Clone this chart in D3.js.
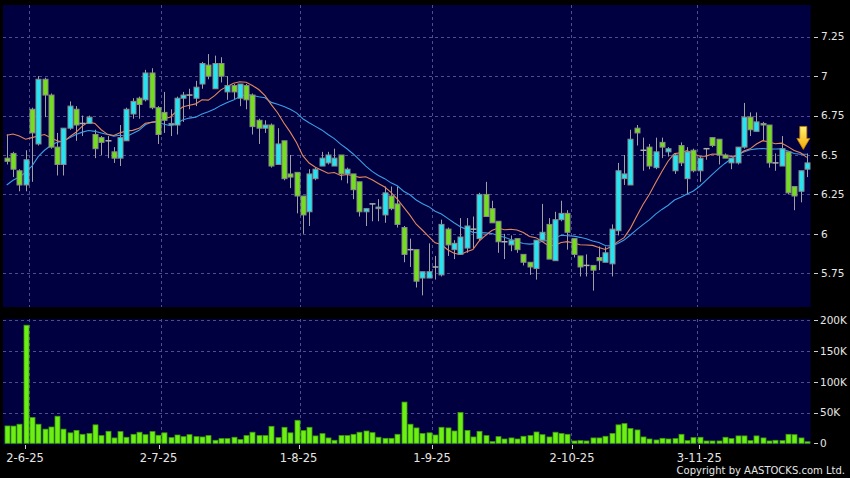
<!DOCTYPE html>
<html><head><meta charset="utf-8">
<script src="https://cdn.jsdelivr.net/npm/d3@7/dist/d3.min.js"></script>
<style>
html,body{margin:0;padding:0;background:#000;}
svg{display:block;}
text{font-family:"DejaVu Sans",Verdana,sans-serif;}
</style></head><body>
<svg id="chart" width="850" height="478"></svg>
<script>
// ---- data (daily candles, oldest first) ----
const opens = [6.48,6.51,6.40,6.31,6.79,6.57,6.98,6.88,6.55,6.44,6.67,6.79,6.70,6.70,6.63,6.61,6.59,6.52,6.48,6.59,
6.76,6.86,6.85,7.02,6.80,6.77,6.69,6.69,6.86,6.88,6.86,6.95,7.07,6.92,7.08,6.90,6.94,6.86,6.94,6.88,
6.72,6.67,6.69,6.44,6.59,6.38,6.39,6.24,6.14,6.35,6.43,6.45,6.43,6.50,6.38,6.38,6.33,6.14,6.19,6.16,
6.12,6.24,6.19,6.04,5.90,5.90,5.72,5.72,5.79,5.74,6.03,5.90,5.87,5.91,6.03,5.97,6.25,6.16,6.08,5.95,
5.93,5.97,5.87,5.82,5.78,5.96,6.06,5.83,6.09,6.13,5.97,5.86,5.80,5.80,5.85,5.82,5.81,6.02,6.35,6.31,
6.67,6.53,6.55,6.42,6.58,6.52,6.40,6.56,6.35,6.53,6.40,6.54,6.61,6.60,6.50,6.45,6.45,6.55,6.74,6.65,
6.70,6.69,6.45,6.43,6.52,6.30,6.27,6.41];
const highs = [6.63,6.52,6.41,6.53,6.80,7.00,6.99,6.89,6.64,6.67,6.84,6.81,6.75,6.75,6.66,6.62,6.62,6.55,6.69,6.80,
6.86,6.87,7.04,7.05,6.81,6.90,6.79,6.87,6.90,6.92,6.97,7.09,7.14,7.13,7.12,7.00,6.95,6.95,6.95,6.89,
6.73,6.72,6.70,6.67,6.59,6.50,6.39,6.24,6.41,6.42,6.52,6.52,6.54,6.50,6.42,6.38,6.33,6.16,6.19,6.22,
6.30,6.30,6.30,6.05,5.97,5.90,5.76,5.94,5.86,6.09,6.04,5.96,6.10,6.10,6.11,6.26,6.33,6.21,6.08,6.00,
5.99,5.97,5.87,5.82,5.96,6.19,6.10,6.14,6.21,6.15,5.97,5.86,5.87,5.80,5.92,5.92,6.06,6.45,6.50,6.66,
6.69,6.61,6.57,6.61,6.61,6.55,6.51,6.58,6.55,6.54,6.49,6.54,6.61,6.60,6.51,6.48,6.55,6.83,6.77,6.77,
6.71,6.69,6.51,6.62,6.52,6.30,6.40,6.51];
const lows = [6.44,6.36,6.27,6.27,6.33,6.56,6.74,6.54,6.37,6.37,6.66,6.59,6.62,6.70,6.48,6.50,6.48,6.45,6.43,6.59,
6.73,6.73,6.84,6.79,6.57,6.64,6.62,6.63,6.71,6.79,6.81,6.92,6.98,6.92,6.96,6.85,6.85,6.81,6.79,6.63,
6.57,6.64,6.42,6.44,6.34,6.29,6.13,6.00,6.05,6.34,6.43,6.44,6.43,6.34,6.32,6.22,6.11,6.05,6.08,6.08,
6.07,6.15,6.04,5.82,5.79,5.66,5.61,5.72,5.71,5.73,5.86,5.84,5.87,5.88,5.91,5.96,6.11,6.07,5.88,5.84,
5.89,5.88,5.80,5.74,5.71,5.96,5.84,5.83,6.08,5.90,5.85,5.73,5.73,5.64,5.77,5.82,5.73,5.99,6.31,6.31,
6.56,6.40,6.41,6.41,6.48,6.49,6.38,6.43,6.25,6.39,6.33,6.47,6.55,6.44,6.48,6.41,6.44,6.54,6.62,6.65,
6.59,6.42,6.40,6.43,6.25,6.15,6.20,6.36];
const closes = [6.46,6.41,6.31,6.47,6.64,6.98,6.88,6.55,6.44,6.67,6.81,6.69,6.70,6.74,6.54,6.58,6.59,6.48,6.61,6.79,
6.84,6.82,7.02,6.80,6.63,6.72,6.70,6.86,6.88,6.88,6.93,7.08,7.00,7.08,7.00,6.94,6.90,6.95,6.85,6.68,
6.67,6.69,6.43,6.57,6.35,6.36,6.24,6.12,6.38,6.41,6.48,6.50,6.48,6.38,6.41,6.28,6.14,6.16,6.19,6.17,
6.26,6.16,6.06,5.87,5.90,5.70,5.76,5.76,5.79,6.06,5.93,5.94,5.98,6.05,6.03,6.25,6.11,6.07,5.95,5.95,
5.96,5.90,5.82,5.79,5.96,6.01,5.84,6.09,6.13,6.01,5.87,5.79,5.80,5.77,5.83,5.88,6.03,6.40,6.38,6.60,
6.64,6.53,6.43,6.52,6.55,6.54,6.50,6.45,6.52,6.40,6.48,6.54,6.56,6.50,6.48,6.48,6.55,6.74,6.66,6.71,
6.69,6.45,6.45,6.54,6.26,6.24,6.40,6.45];
const volumes = [28200,28000,31000,192000,42000,31000,23000,26500,44000,23000,17000,21000,14600,16000,30000,12500,19500,8700,19000,9800,
14600,18000,14000,19000,13000,17000,9200,13500,10800,14000,10800,10300,12500,4900,7600,7600,9800,6000,12500,18000,
12500,12500,27600,9200,26000,17000,37400,20600,26000,12000,15700,8700,4900,12500,12500,14600,18000,20000,17300,9800,
8100,8100,14600,67000,31000,25000,16000,17000,13500,26000,25000,20000,50000,21000,10300,19500,12500,2700,10800,7000,
8700,7000,11400,12500,18400,14000,10300,18000,16000,14600,3800,4300,3800,8700,8700,11400,16000,30000,32000,24000,
21700,10300,7000,5400,8100,7000,7600,14600,4300,9200,9800,3800,3800,3800,9800,7600,12000,12000,4300,12000,
8700,3800,4900,4300,14600,14000,8700,2500];
// moving averages at the first candles (their earlier closes are off-chart)
const ma10Lead = [6.625,6.633,6.62,6.60,6.61,6.62,6.63,6.61,6.59];
const ma20Lead = [6.31,6.34,6.36,6.39,6.43,6.49,6.53,6.56,6.58,6.59,6.61,6.63,6.645,6.655,6.65,6.64,6.63,6.62,6.625];
const priceTicks = [5.75, 6, 6.25, 6.5, 6.75, 7, 7.25];
const volumeTicks = [0, 50000, 100000, 150000, 200000];
const volumeTickLabels = ["0", "50K", "100K", "150K", "200K"];
const dateLabels = ["2-6-25", "2-7-25", "1-8-25", "1-9-25", "2-10-25", "3-11-25"];
const dateLabelIndex = [4, 25, 47, 68, 90, 110];

// ---- layout ----
const n = closes.length;
const svg = d3.select("#chart");
const PANEL_L = 3, PANEL_R = 810.5;
const MAIN_T = 5, MAIN_B = 307;
const VOL_T = 319, VOL_B = 445;
const BG = "#000040", GRID = "#4d4d8f";
const UP = "#22e4f2", DOWN = "#72de1c", EDGE = "#8a8a8a", WICK = "#a0a0a0";

const x = d3.scaleLinear().domain([0, n - 1]).range([6.7, 806.8]);
// the date tick labels sit on a slightly wider scale spanning the whole panel
const xLabel = d3.scaleLinear().domain([0, n - 1]).range([-0.4, 807.4]);
const y = d3.scaleLinear().domain([5.75, 7.25]).range([273.3, 36.7]);
const yv = d3.scaleLinear().domain([0, 200000]).range([443.3, 320.3]);

svg.append("rect").attr("width", 850).attr("height", 478).attr("fill", "#000");
svg.append("rect").attr("x", PANEL_L).attr("y", MAIN_T).attr("width", PANEL_R - PANEL_L).attr("height", MAIN_B - MAIN_T).attr("fill", BG);
svg.append("rect").attr("x", PANEL_L).attr("y", VOL_T).attr("width", PANEL_R - PANEL_L).attr("height", VOL_B - VOL_T).attr("fill", BG);

const grid = svg.append("g").attr("stroke", GRID).attr("stroke-width", 1).attr("stroke-dasharray", "3,3").attr("fill", "none");
priceTicks.forEach(t => {
  const yy = Math.round(y(t)) + 0.5;
  grid.append("line").attr("x1", PANEL_L).attr("x2", PANEL_R).attr("y1", yy).attr("y2", yy);
});
volumeTicks.filter(t => t > 0).forEach(t => {
  const yy = Math.round(yv(t)) + 0.5;
  grid.append("line").attr("x1", PANEL_L).attr("x2", PANEL_R).attr("y1", yy).attr("y2", yy);
});
dateLabelIndex.forEach(i => {
  const xx = Math.round(x(i - 0.5)) + 0.5;
  grid.append("line").attr("x1", xx).attr("x2", xx).attr("y1", MAIN_T).attr("y2", MAIN_B);
  grid.append("line").attr("x1", xx).attr("x2", xx).attr("y1", VOL_T).attr("y2", VOL_B);
});

// ---- right axes ----
const axisG = svg.append("g");
priceTicks.forEach(t => {
  const yy = y(t);
  axisG.append("line").attr("x1", 814).attr("x2", 818).attr("y1", Math.round(yy) + 0.5).attr("y2", Math.round(yy) + 0.5).attr("stroke", "#cfcfcf");
  axisG.append("text").attr("x", 821).attr("y", yy).attr("dy", "0.36em").attr("fill", "#e6e6e6").attr("font-size", 10.5).text(d3.format("")(t));
});
volumeTicks.forEach((t, k) => {
  const yy = yv(t);
  axisG.append("line").attr("x1", 814).attr("x2", 818).attr("y1", Math.round(yy) + 0.5).attr("y2", Math.round(yy) + 0.5).attr("stroke", "#cfcfcf");
  axisG.append("text").attr("x", 820).attr("y", yy).attr("dy", "0.36em").attr("fill", "#e6e6e6").attr("font-size", 10.5).text(volumeTickLabels[k]);
});
// ---- date axis ----
dateLabelIndex.forEach((i, k) => {
  const xx = xLabel(i);
  axisG.append("line").attr("x1", Math.round(xx) + 0.5).attr("x2", Math.round(xx) + 0.5).attr("y1", 445).attr("y2", 449).attr("stroke", "#cfcfcf");
  axisG.append("text").attr("x", xx).attr("y", 461.5).attr("text-anchor", "middle").attr("fill", "#e6e6e6").attr("font-size", 11.5).text(dateLabels[k]);
});
svg.append("text").attr("x", 845).attr("y", 474).attr("text-anchor", "end").attr("fill", "#e6e6e6").attr("font-size", 10).text("Copyright by AASTOCKS.com Ltd.");

// ---- moving averages ----
function sma(period, lead) {
  return closes.map((c, i) => i < lead.length ? lead[i] : d3.mean(closes.slice(Math.max(0, i - period + 1), i + 1)));
}
const ma10 = sma(10, ma10Lead);
const ma20 = sma(20, ma20Lead);
const line = d3.line().x((d, i) => x(i)).y(d => y(d));

// ---- candles ----
const cg = svg.append("g");
d3.range(n).forEach(i => {
  const cx = Math.round(x(i)) + 0.5;
  cg.append("line").attr("x1", cx).attr("x2", cx).attr("y1", y(highs[i])).attr("y2", y(lows[i])).attr("stroke", WICK).attr("stroke-width", 1);
});
svg.append("path").attr("d", line(ma20)).attr("fill", "none").attr("stroke", "#3a9ee6").attr("stroke-width", 1.1);
svg.append("path").attr("d", line(ma10)).attr("fill", "none").attr("stroke", "#e4875c").attr("stroke-width", 1.1);
const bg2 = svg.append("g");
d3.range(n).forEach(i => {
  const cx = Math.round(x(i)) + 0.5;
  const o = opens[i], c = closes[i];
  if (o === c) {
    bg2.append("line").attr("x1", cx - 3).attr("x2", cx + 3).attr("y1", y(o)).attr("y2", y(o)).attr("stroke", "#b0b0b0").attr("stroke-width", 1.5);
  } else {
    const top = y(Math.max(o, c)), bot = y(Math.min(o, c));
    bg2.append("rect").attr("x", cx - 2.5).attr("y", top).attr("width", 5).attr("height", Math.max(1.5, bot - top))
      .attr("fill", c > o ? UP : DOWN).attr("stroke", EDGE).attr("stroke-width", 1);
  }
});

// ---- volume ----
const vg = svg.append("g");
volumes.forEach((v, i) => {
  const cx = Math.round(x(i)) + 0.5;
  vg.append("rect").attr("x", cx - 2.5).attr("y", yv(v)).attr("width", 5).attr("height", yv(0) - yv(v))
    .attr("fill", "#6cf014").attr("stroke", "#3f9a0c").attr("stroke-width", 0.8);
});

// ---- last-price arrow marker ----
const defs = svg.append("defs");
const grad = defs.append("linearGradient").attr("id", "arrowGrad").attr("x1", 0).attr("x2", 0).attr("y1", 0).attr("y2", 1);
grad.append("stop").attr("offset", "0%").attr("stop-color", "#fff27a");
grad.append("stop").attr("offset", "100%").attr("stop-color", "#f0a800");
const ax = x(n - 1) - 3.5, tipY = y(highs[n - 1]) - 4;
svg.append("path")
  .attr("d", `M${ax},${tipY} L${ax - 6.5},${tipY - 11} L${ax - 3.5},${tipY - 11} L${ax - 3.5},${tipY - 23} L${ax + 3.5},${tipY - 23} L${ax + 3.5},${tipY - 11} L${ax + 6.5},${tipY - 11} Z`)
  .attr("fill", "url(#arrowGrad)").attr("stroke", "#c77a00").attr("stroke-width", 0.8);
</script>
</body></html>
